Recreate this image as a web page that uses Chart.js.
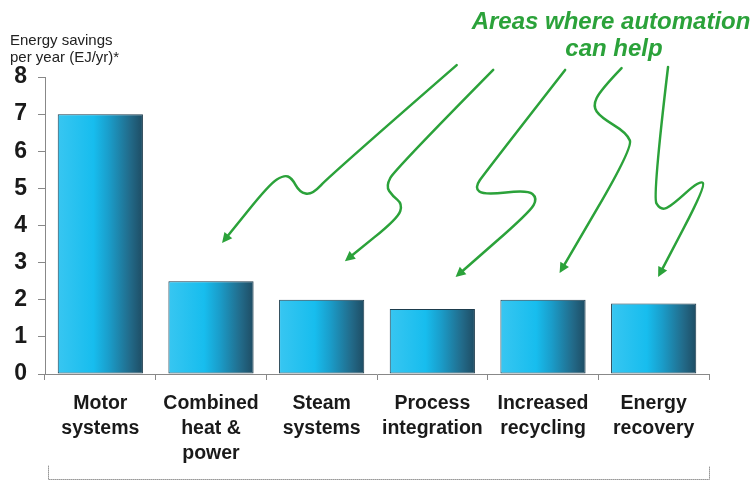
<!DOCTYPE html>
<html>
<head>
<meta charset="utf-8">
<script src="https://cdn.jsdelivr.net/npm/chart.js@4"></script>
<style>
  html, body { margin: 0; padding: 0; background: #fff; }
  #wrap { width: 755px; height: 482px; position: relative; }
</style>
</head>
<body>
<div id="wrap"><canvas id="chart"></canvas></div>
<script>
// chart values
const categories = [
    ['Motor', 'systems'],
    ['Combined', 'heat &', 'power'],
    ['Steam', 'systems'],
    ['Process', 'integration'],
    ['Increased', 'recycling'],
    ['Energy', 'recovery']
];
const savings = [7, 2.5, 2.0, 1.75, 2.0, 1.9];
const yTicks = [0, 1, 2, 3, 4, 5, 6, 7, 8];
const axisTitle = ['Energy savings', 'per year (EJ/yr)*'];
const noteLines = ['Areas where automation', 'can help'];

// hand drawn arrows, in axis units: [category index, value]
const arrows = [
    [[3.22, 8.32], [2.08, 5.36], [1.91, 4.82], [1.80, 4.90], [1.73, 5.28], [1.66, 5.36], [1.53, 5.12], [1.10, 3.53]],
    [[3.55, 8.19], [2.66, 5.50], [2.58, 5.06], [2.64, 4.80], [2.73, 4.58], [2.69, 4.20], [2.21, 3.04]],
    [[4.20, 8.19], [3.48, 5.44], [3.38, 5.01], [3.47, 4.82], [3.86, 4.96], [3.95, 4.74], [3.88, 4.36], [3.21, 2.61]],
    [[4.71, 8.24], [4.52, 7.65], [4.45, 7.22], [4.52, 6.92], [4.76, 6.49], [4.81, 6.09], [4.15, 2.72]],
    [[5.13, 8.27], [4.99, 4.77], [5.06, 4.42], [5.15, 4.50], [5.42, 5.23], [5.47, 5.06], [5.04, 2.61]]
];

const GREEN = '#2ba23a';
const BAR_FRACTION = 0.77;

// horizontal light-to-dark gradient across each bar
function barGradient(context) {
    const chart = context.chart;
    const xScale = chart.scales.x;
    if (!xScale || context.dataIndex === undefined) return '#1cbbea';
    const center = xScale.getPixelForValue(context.dataIndex);
    const half = (xScale.width / categories.length) * BAR_FRACTION / 2;
    if (!isFinite(center) || !isFinite(half) || half <= 0) return '#1cbbea';
    const g = chart.ctx.createLinearGradient(center - half, 0, center + half, 0);
    g.addColorStop(0, '#38c6f1');
    g.addColorStop(0.42, '#17bdee');
    g.addColorStop(0.6, '#1a9dca');
    g.addColorStop(0.85, '#226a89');
    g.addColorStop(1, '#1e4c63');
    return g;
}

const decorations = {
    id: 'decorations',
    afterDraw(chart) {
        const ctx = chart.ctx;
        const x = chart.scales.x;
        const y = chart.scales.y;
        ctx.save();

        // axis title, top left
        ctx.fillStyle = '#222';
        ctx.font = '15px "Liberation Sans", Arial, sans-serif';
        ctx.textAlign = 'left';
        ctx.textBaseline = 'middle';
        ctx.fillText(axisTitle[0], 10, 41);
        ctx.fillText(axisTitle[1], 10, 58);

        // green note
        ctx.fillStyle = GREEN;
        ctx.font = 'italic bold 24px "Liberation Sans", Arial, sans-serif';
        ctx.textAlign = 'center';
        ctx.fillText(noteLines[0], 611, 22);
        ctx.fillText(noteLines[1], 614, 49);

        // arrows
        ctx.strokeStyle = GREEN;
        ctx.fillStyle = GREEN;
        ctx.lineWidth = 2.5;
        ctx.lineCap = 'round';
        ctx.lineJoin = 'round';
        arrows.forEach(function (path) {
            const pts = path.map(p => [x.getPixelForValue(p[0]), y.getPixelForValue(p[1])]);
            const n = pts.length;
            const last = pts[n - 1];
            const prev = pts[n - 2];
            const ang = Math.atan2(last[1] - prev[1], last[0] - prev[0]);
            const headLen = 10;
            const lineEnd = [last[0] - Math.cos(ang) * headLen * 0.7, last[1] - Math.sin(ang) * headLen * 0.7];

            ctx.beginPath();
            ctx.moveTo(pts[0][0], pts[0][1]);
            for (let i = 1; i < n - 1; i++) {
                const nx = i + 1 === n - 1 ? lineEnd : pts[i + 1];
                const mx = (pts[i][0] + nx[0]) / 2;
                const my = (pts[i][1] + nx[1]) / 2;
                ctx.quadraticCurveTo(pts[i][0], pts[i][1], mx, my);
            }
            ctx.lineTo(lineEnd[0], lineEnd[1]);
            ctx.stroke();

            ctx.beginPath();
            ctx.moveTo(last[0], last[1]);
            ctx.lineTo(last[0] - headLen * Math.cos(ang) + 5 * Math.sin(ang), last[1] - headLen * Math.sin(ang) - 5 * Math.cos(ang));
            ctx.lineTo(last[0] - headLen * Math.cos(ang) - 5 * Math.sin(ang), last[1] - headLen * Math.sin(ang) + 5 * Math.cos(ang));
            ctx.closePath();
            ctx.fill();
        });

        // bracket under the category labels
        const left = x.left + 3;
        const right = x.right;
        ctx.strokeStyle = '#999';
        ctx.lineWidth = 1;
        ctx.setLineDash([1, 1]);
        ctx.beginPath();
        ctx.moveTo(left + 0.5, 466);
        ctx.lineTo(left + 0.5, 479.5);
        ctx.lineTo(right + 0.5, 479.5);
        ctx.lineTo(right + 0.5, 466);
        ctx.stroke();

        ctx.restore();
    }
};

new Chart(document.getElementById('chart'), {
    type: 'bar',
    data: {
        labels: categories,
        datasets: [{
            label: 'Energy savings',
            data: savings,
            backgroundColor: barGradient,
            borderColor: '#1d3c4d',
            borderWidth: 1,
            borderSkipped: false,
            barPercentage: 1,
            categoryPercentage: BAR_FRACTION
        }]
    },
    options: {
        responsive: true,
        maintainAspectRatio: false,
        animation: false,
        layout: {
            padding: { top: 77, right: 46, bottom: 0, left: 0 }
        },
        scales: {
            x: {
                afterFit: function (scale) { scale.height = 108; },
                border: { display: true, color: '#888', width: 1 },
                grid: {
                    display: true,
                    drawOnChartArea: false,
                    drawTicks: true,
                    tickLength: 6,
                    color: '#888'
                },
                ticks: {
                    color: '#1a1a1a',
                    padding: 11,
                    maxRotation: 0,
                    autoSkip: false,
                    font: { family: '"Liberation Sans", Arial, sans-serif', size: 19.5, weight: 'bold', lineHeight: 1.28 }
                }
            },
            y: {
                min: 0,
                max: 8,
                afterFit: function (scale) { scale.width = 45; },
                afterBuildTicks: function (scale) {
                    scale.ticks = yTicks.map(v => ({ value: v }));
                },
                border: { display: true, color: '#888', width: 1 },
                grid: {
                    display: true,
                    drawOnChartArea: false,
                    drawTicks: true,
                    tickLength: 7,
                    color: '#888'
                },
                ticks: {
                    color: '#1a1a1a',
                    padding: 11,
                    font: { family: '"Liberation Sans", Arial, sans-serif', size: 23, weight: 'bold' }
                }
            }
        },
        plugins: {
            legend: { display: false },
            title: { display: false },
            tooltip: { enabled: false }
        }
    },
    plugins: [decorations]
});
</script>
</body>
</html>
